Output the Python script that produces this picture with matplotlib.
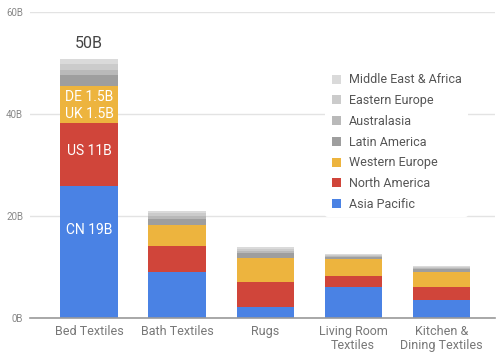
import numpy as np
import matplotlib
matplotlib.use('Agg')
import matplotlib.pyplot as plt
from matplotlib.patches import Patch

plt.rcParams['font.family'] = ['Roboto', 'DejaVu Sans']

# categories and stacked values (billions)
categories = ['Bed Textiles', 'Bath Textiles', 'Rugs', 'Living Room\nTextiles', 'Kitchen &\nDining Textiles']
regions = ['Asia Pacific', 'North America', 'Western Europe', 'Latin America',
           'Australasia', 'Eastern Europe', 'Middle East & Africa']
asia_pacific = [25.9, 9.1, 2.2, 6.0, 3.5]
north_america = [12.4, 5.0, 4.9, 2.2, 2.5]
western_europe = [7.1, 4.1, 4.6, 3.3, 3.1]
latin_america = [2.3, 1.2, 1.0, 0.5, 0.5]
australasia = [1.0, 0.6, 0.5, 0.2, 0.2]
eastern_europe = [1.1, 0.5, 0.4, 0.2, 0.2]
middle_east_africa = [0.9, 0.4, 0.3, 0.1, 0.1]
series = [asia_pacific, north_america, western_europe, latin_america,
          australasia, eastern_europe, middle_east_africa]
colors = ['#4a82e4', '#d0453a', '#edb43e', '#9e9e9e', '#b9b9b9', '#cbcbcb', '#dadada']

# in-bar labels for Bed Textiles
bar_labels = ['CN 19B', 'US 11B', 'UK 1.5B', 'DE 1.5B']
bar_label_y = [17.3, 32.7, 40.0, 43.3]
total_label = '50B'
total_label_y = 53.9

yticks = [0, 20, 40, 60]
ytick_labels = ['0B', '20B', '40B', '60B']

fig = plt.figure(figsize=(5.0, 3.59), dpi=100)
ax = fig.add_axes([0.06, 0.1142, 0.93, 0.8524])

x = np.arange(len(categories))
bottom = np.zeros(len(categories))
for vals, col in zip(series, colors):
    ax.bar(x, vals, width=0.65, bottom=bottom, color=col, zorder=2)
    bottom += np.array(vals)

for lab, yy in zip(bar_labels, bar_label_y):
    ax.text(x[0], yy, lab, color='white', ha='center', va='center', fontsize=10, zorder=3)
ax.text(x[0], total_label_y, total_label, color='#444444', ha='center', va='center', fontsize=11.5)

ax.set_xlim(-0.67, 4.61)
ax.set_ylim(0, 60)
ax.set_yticks(yticks)
ax.set_yticklabels(ytick_labels)
ax.set_xticks(x)
ax.set_xticklabels(categories, linespacing=1.1)
ax.tick_params(axis='y', length=0, labelsize=7, labelcolor='#888888', pad=5)
ax.tick_params(axis='x', length=0, labelsize=9, labelcolor='#777777', pad=5)
ax.grid(axis='y', color='#e3e3e3', linewidth=1, zorder=0)
for s in ['top', 'right', 'left']:
    ax.spines[s].set_visible(False)
ax.spines['bottom'].set_color('#9a9a9a')
ax.spines['bottom'].set_linewidth(1.2)
ax.spines['bottom'].set_zorder(4)

handles = [Patch(facecolor=c, edgecolor='none') for c in colors]
leg = ax.legend(handles[::-1], regions[::-1], loc='upper left',
                bbox_to_anchor=(0.622, 0.84), frameon=True, fontsize=9,
                handlelength=0.75, handleheight=0.75, handletextpad=0.6,
                labelspacing=0.62, borderpad=0.5, labelcolor='#555555')
leg.get_frame().set_edgecolor('none')
leg.get_frame().set_facecolor('white')
leg.get_frame().set_alpha(1)
leg.set_zorder(5)

fig.savefig('out.png', dpi=100)
